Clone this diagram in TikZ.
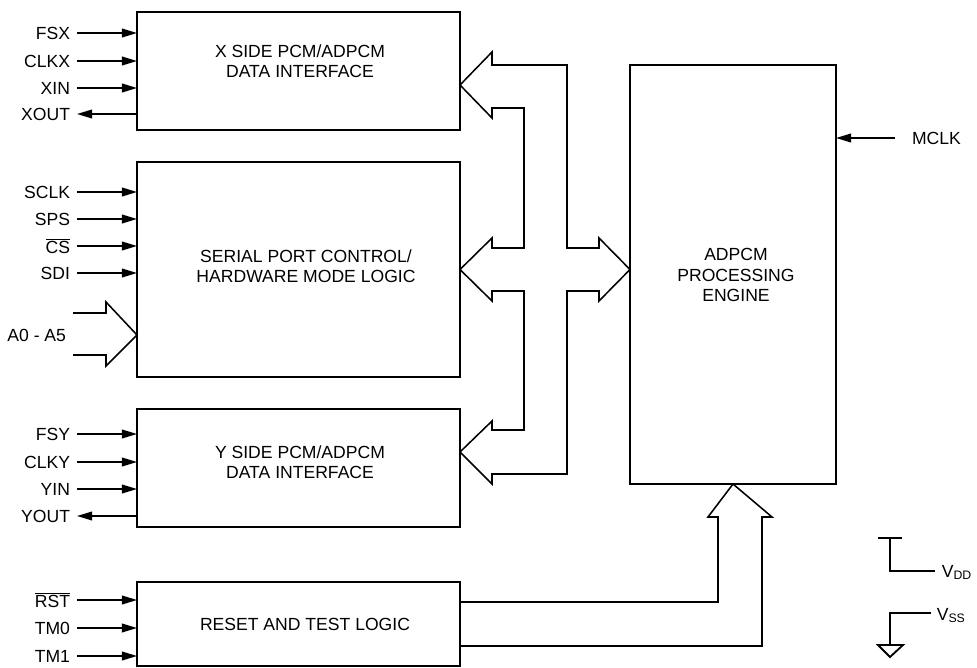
\documentclass[tikz,border=0pt]{standalone}
\usepackage{fontspec}
\setmainfont{Liberation Sans}
\usetikzlibrary{arrows.meta}

\begin{document}
\begin{tikzpicture}[x=0.25mm, y=-0.25mm, line width=1.1pt, line join=miter,
                    every node/.style={font=\fontsize{12.5}{14.5}\selectfont},
                    block/.style={draw, inner sep=0pt, outer sep=0pt},
                    sig/.style={anchor=east, inner xsep=1.75mm, inner ysep=0pt, outer sep=0pt},
                    label/.style={align=center, inner sep=0pt},
                    pin/.style={-{Triangle[length=3.8mm,width=2.2mm]}}]

\useasboundingbox (0,0) rectangle (977,667);

% blocks
\node[block, minimum width=323*0.25mm, minimum height=118*0.25mm] (xside) at (298.5,71) {};
\node[block, minimum width=323*0.25mm, minimum height=215*0.25mm] (serial) at (298.5,269.5) {};
\node[block, minimum width=323*0.25mm, minimum height=118*0.25mm] (yside) at (298.5,468) {};
\node[block, minimum width=323*0.25mm, minimum height=84*0.25mm] (reset) at (298.5,624) {};
\node[block, minimum width=206*0.25mm, minimum height=419*0.25mm] (engine) at (733,274.5) {};

\node[label] (xside-txt) at (300,61) {X SIDE PCM/ADPCM\\DATA INTERFACE};
\node[label] (serial-txt) at (306,266.5) {SERIAL PORT CONTROL/\\HARDWARE MODE LOGIC};
\node[label] (yside-txt) at (300,462) {Y SIDE PCM/ADPCM\\DATA INTERFACE};
\node[label] (reset-txt) at (305,624) {RESET AND TEST LOGIC};
\node[label] (engine-txt) at (736,275) {ADPCM\\PROCESSING\\ENGINE};

% pins
\node[sig] (fsx) at (77,33) {FSX};
\node[sig] (clkx) at (77,61) {CLKX};
\node[sig] (xin) at (77,88) {XIN};
\node[sig] (xout) at (77,114) {XOUT};

\node[sig] (sclk) at (77,192) {SCLK};
\node[sig] (sps) at (77,219) {SPS};
\node[sig] (cs) at (77,246) {$\overline{\mbox{CS}}$};
\node[sig] (sdi) at (77,273) {SDI};
\node[sig] (addr) at (73,335) {A0 - A5};

\node[sig] (fsy) at (77,434) {FSY};
\node[sig] (clky) at (77,462) {CLKY};
\node[sig] (yin) at (77,489) {YIN};
\node[sig] (yout) at (77,516) {YOUT};

\node[sig] (rst) at (77,600) {$\overline{\mbox{RST}}$};
\node[sig] (tm0) at (77,628) {TM0};
\node[sig] (tm1) at (77,656) {TM1};

\node[anchor=west, inner xsep=4.25mm, inner ysep=0pt, outer sep=0pt] (mclk) at (895,138) {MCLK};

\path[pin]
(fsx.east) edge (fsx.east -| xside.west)
(clkx.east) edge (clkx.east -| xside.west)
(xin.east) edge (xin.east -| xside.west)
(xside.west |- xout.east) edge (xout.east)

(sclk.east) edge (sclk.east -| serial.west)
(sps.east) edge (sps.east -| serial.west)
(cs.east) edge (cs.east -| serial.west)
(sdi.east) edge (sdi.east -| serial.west)

(fsy.east) edge (fsy.east -| yside.west)
(clky.east) edge (clky.east -| yside.west)
(yin.east) edge (yin.east -| yside.west)
(yside.west |- yout.east) edge (yout.east)

(rst.east) edge (rst.east -| reset.west)
(tm0.east) edge (tm0.east -| reset.west)
(tm1.east) edge (tm1.east -| reset.west)

(mclk.west) edge (mclk.west -| engine.east);

% address bus
\draw (addr.east) ++(0,-22) -- ++(33,0) -- ++(0,-11) -- (serial.west |- addr.east)
      -- ++(-31,31) -- ++(0,-11) -- ++(-33,0);

% internal bus
\draw (492,108) -- (492,118) -- (460,85) -- (492,52) -- (492,65) -- (567,65)
      -- (567,248) -- (599,248) -- (599,238) -- (630,269.5) -- (599,301) -- (599,291)
      -- (567,291) -- (567,474) -- (492,474) -- (492,484) -- (460,452) -- (492,421)
      -- (492,430) -- (524,430) -- (524,291) -- (492,291) -- (492,301) -- (460,269.5)
      -- (492,238) -- (492,248) -- (524,248) -- (524,108) -- cycle;

% test bus
\draw (reset.east |- 0,602) -- (718,602) -- (718,517) -- (708,517) -- (engine.south)
      -- (772,517) -- (762,517) -- (762,646) -- (reset.east |- 0,646);

% supplies
\node[anchor=base west, inner sep=0pt] (vdd) at (941,577) {V\textsubscript{DD}};
\node[anchor=base west, inner sep=0pt] (vss) at (936,620) {V\textsubscript{SS}};
\draw[line width=0.9pt] (878,538) -- (902,538) (890,538) -- (890,571) -- (935,571);
\draw[line width=0.9pt] (931,613) -- (890,613) -- (890,645);
\draw[line width=1.3pt] (878,645) -- (903,645) -- (890,657) -- cycle;

\end{tikzpicture}
\end{document}
